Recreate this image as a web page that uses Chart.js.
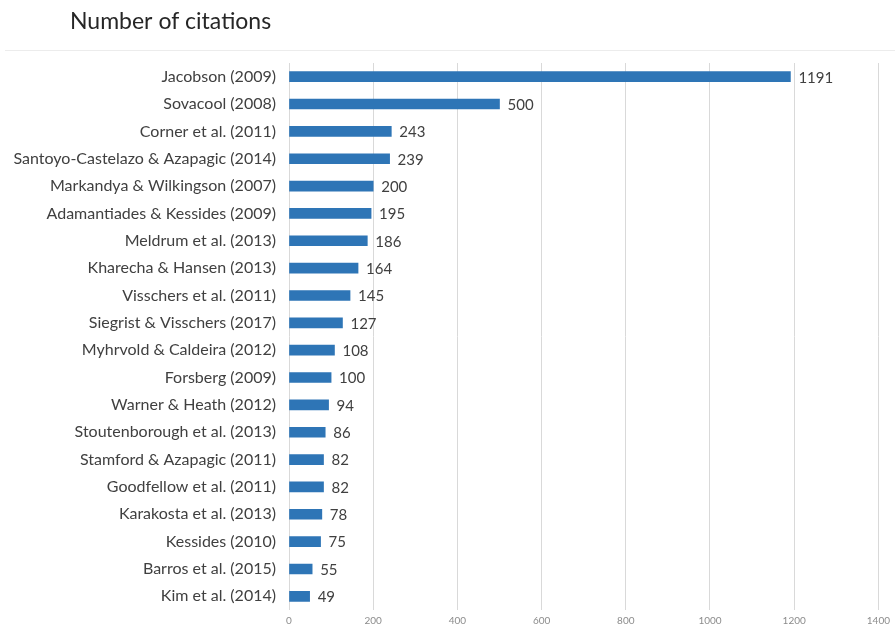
<!DOCTYPE html>
<html>
<head>
<meta charset="utf-8">
<script src="https://cdn.jsdelivr.net/npm/chart.js@4/dist/chart.umd.min.js"></script>
<style>
  html, body { margin: 0; padding: 0; background: #ffffff; }
  #wrap { width: 895px; height: 627px; position: relative; }
</style>
</head>
<body>
<div id="wrap"><canvas id="chart" width="895" height="627"></canvas></div>
<script>
// Publications and how often each has been cited
const authors = [
  'Jacobson (2009)',
  'Sovacool (2008)',
  'Corner et al. (2011)',
  'Santoyo-Castelazo & Azapagic (2014)',
  'Markandya & Wilkingson (2007)',
  'Adamantiades & Kessides (2009)',
  'Meldrum et al. (2013)',
  'Kharecha & Hansen (2013)',
  'Visschers et al. (2011)',
  'Siegrist & Visschers (2017)',
  'Myhrvold & Caldeira (2012)',
  'Forsberg (2009)',
  'Warner & Heath (2012)',
  'Stoutenborough et al. (2013)',
  'Stamford & Azapagic (2011)',
  'Goodfellow et al. (2011)',
  'Karakosta et al. (2013)',
  'Kessides (2010)',
  'Barros et al. (2015)',
  'Kim et al. (2014)'
];
const citations = [1191, 500, 243, 239, 200, 195, 186, 164, 145, 127, 108, 100, 94, 86, 82, 82, 78, 75, 55, 49];
const axisMax = 1400;
const axisStep = 200;
const chartTitle = 'Number of citations';

const FONT = 'Lato, "Open Sans", sans-serif';

// Title text and the thin rule beneath it
const headerPlugin = {
  id: 'header',
  beforeDraw(chart) {
    const ctx = chart.ctx;
    ctx.save();
    ctx.fillStyle = '#262626';
    ctx.font = '23px ' + FONT;
    ctx.textBaseline = 'middle';
    ctx.textAlign = 'left';
    ctx.fillText(chartTitle, 70, 22);
    ctx.strokeStyle = '#ececec';
    ctx.lineWidth = 1;
    ctx.beginPath();
    ctx.moveTo(5, 50.5);
    ctx.lineTo(895, 50.5);
    ctx.stroke();
    ctx.restore();
  }
};

// Value written just past the end of each bar
const valueLabels = {
  id: 'valueLabels',
  afterDatasetsDraw(chart) {
    const ctx = chart.ctx;
    const meta = chart.getDatasetMeta(0);
    ctx.save();
    ctx.fillStyle = '#404040';
    ctx.font = '15px ' + FONT;
    ctx.textAlign = 'left';
    ctx.textBaseline = 'middle';
    meta.data.forEach((bar, i) => {
      ctx.fillText(String(citations[i]), bar.x + 8, bar.y + 1);
    });
    ctx.restore();
  }
};

new Chart(document.getElementById('chart'), {
  type: 'bar',
  data: {
    labels: authors,
    datasets: [{
      data: citations,
      backgroundColor: '#2e75b6',
      borderWidth: 0,
      barThickness: 10
    }]
  },
  options: {
    indexAxis: 'y',
    responsive: false,
    animation: false,
    layout: { padding: { top: 63, right: 14, bottom: 0, left: 0 } },
    plugins: {
      legend: { display: false },
      tooltip: { enabled: false },
      title: { display: false }
    },
    scales: {
      x: {
        min: 0,
        max: axisMax,
        ticks: {
          stepSize: axisStep,
          color: '#8c8c8c',
          font: { family: FONT, size: 10 },
          padding: 5,
          callback: (v) => String(v)
        },
        grid: { color: '#d9d9d9', drawTicks: false },
        border: { display: false },
        afterFit(scale) { scale.height = 17; }
      },
      y: {
        ticks: {
          color: '#404040',
          font: { family: FONT, size: 16 },
          padding: 13,
          autoSkip: false
        },
        grid: { display: false, drawTicks: false },
        border: { display: false },
        afterFit(scale) {
          scale.width = 289;
          scale.paddingTop = 0;
          scale.paddingBottom = 0;
        }
      }
    }
  },
  plugins: [headerPlugin, valueLabels]
});
</script>
</body>
</html>
